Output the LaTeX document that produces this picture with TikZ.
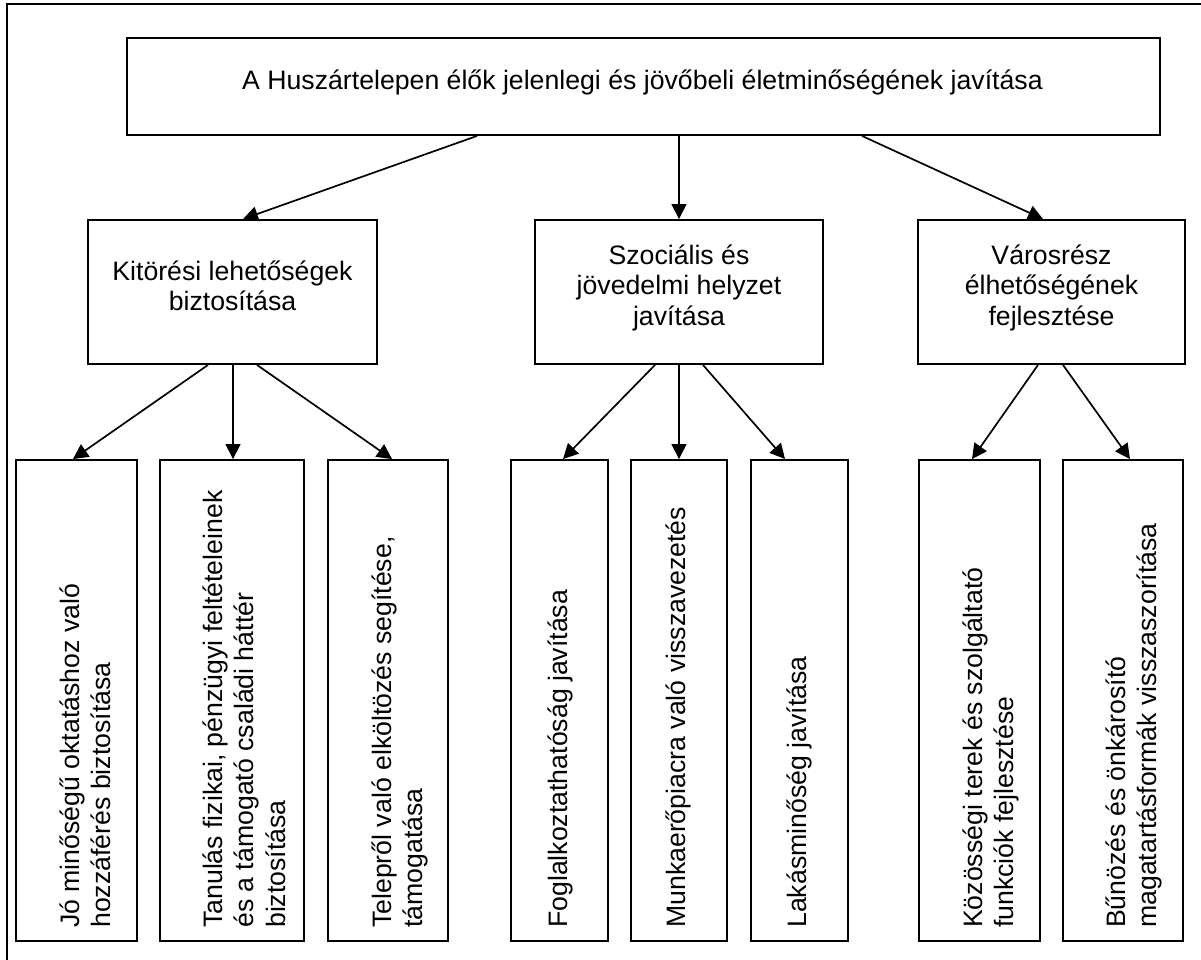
\documentclass[tikz,border=0pt]{standalone}
\usepackage{fontspec}
\setmainfont{Liberation Sans}
\usetikzlibrary{arrows.meta}
\begin{document}
\begin{tikzpicture}[x=1pt,y=-1pt,
  box/.style={draw, line width=1.9pt, inner sep=0pt},
  htext/.style={anchor=base, inner sep=0pt, font=\fontsize{26.67}{30.5}\selectfont},
  vtext/.style={rotate=90, anchor=base west, inner sep=0pt, font=\fontsize{26.67}{31.5}\selectfont},
  conn/.style={line width=1.7pt, -{Triangle[length=15pt,width=15pt]}}]
\useasboundingbox (0,0) rectangle (1201,960);
% outer frame (right and bottom sides lie outside the picture)
\draw[line width=1.9pt] (7,960) -- (7,4) -- (1201,4);
% top
\node[box, minimum width=1033pt, minimum height=97pt] (top) at (643.5,86.5) {};
\node[htext] (toptext) at (642.5,90) {A Huszártelepen élők jelenlegi és jövőbeli életminőségének javítása};
% middle level
\node[box, minimum width=289pt, minimum height=144pt] (m1) at (232.5,292) {};
\node[box, minimum width=288pt, minimum height=144pt] (m2) at (679,292) {};
\node[box, minimum width=267pt, minimum height=144pt] (m3) at (1051.5,292) {};
\node[htext] (m1text) at (232.5,280) {\begin{tabular}[t]{@{}c@{}}Kitörési lehetőségek\\biztosítása\end{tabular}};
\node[htext] (m2text) at (679,264) {\begin{tabular}[t]{@{}c@{}}Szociális és\\jövedelmi helyzet\\javítása\end{tabular}};
\node[htext] (m3text) at (1051.5,264) {\begin{tabular}[t]{@{}c@{}}Városrész\\élhetőségének\\fejlesztése\end{tabular}};
% bottom level
\node[box, minimum width=121pt, minimum height=481pt] (b1) at (76.5,700.5) {};
\node[box, minimum width=144pt, minimum height=481pt] (b2) at (232,700.5) {};
\node[box, minimum width=120pt, minimum height=481pt] (b3) at (388,700.5) {};
\node[box, minimum width=97pt, minimum height=481pt] (b4) at (559.5,700.5) {};
\node[box, minimum width=96pt, minimum height=481pt] (b5) at (679,700.5) {};
\node[box, minimum width=97pt, minimum height=481pt] (b6) at (799.5,700.5) {};
\node[box, minimum width=121pt, minimum height=481pt] (b7) at (979.5,700.5) {};
\node[box, minimum width=120pt, minimum height=481pt] (b8) at (1123,700.5) {};
\node[vtext] (b1text) at (79,928) {\begin{tabular}[t]{@{}l@{}}Jó minőségű oktatáshoz való\\hozzáférés biztosítása\end{tabular}};
\node[vtext] (b2text) at (222,928) {\begin{tabular}[t]{@{}l@{}}Tanulás fizikai, pénzügyi feltételeinek\\és a támogató családi háttér\\biztosítása\end{tabular}};
\node[vtext] (b3text) at (391,928) {\begin{tabular}[t]{@{}l@{}}Telepről való elköltözés segítése,\\támogatása\end{tabular}};
\node[vtext] (b4text) at (567,928) {Foglalkoztathatóság javítása};
\node[vtext] (b5text) at (685,928) {Munkaerőpiacra való visszavezetés};
\node[vtext] (b6text) at (806,928) {Lakásminőség javítása};
\node[vtext] (b7text) at (982,928) {\begin{tabular}[t]{@{}l@{}}Közösségi terek és szolgáltató\\funkciók fejlesztése\end{tabular}};
\node[vtext] (b8text) at (1125,928) {\begin{tabular}[t]{@{}l@{}}Bűnözés és önkárosító\\magatartásformák visszaszorítása\end{tabular}};
% connectors
\draw[conn] ([xshift=-166.5pt]top.south) -- ([xshift=10.5pt]m1.north);
\draw[conn] ([xshift=35.5pt]top.south) -- (m2.north);
\draw[conn] ([xshift=218.5pt]top.south) -- ([xshift=-8.5pt]m3.north);
\draw[conn] ([xshift=-24.5pt]m1.south) -- ([xshift=-3.5pt]b1.north);
\draw[conn] ([xshift=0.5pt]m1.south) -- ([xshift=1pt]b2.north);
\draw[conn] ([xshift=24.5pt]m1.south) -- ([xshift=4pt]b3.north);
\draw[conn] ([xshift=-24pt]m2.south) -- ([xshift=3.5pt]b4.north);
\draw[conn] (m2.south) -- (b5.north);
\draw[conn] ([xshift=24pt]m2.south) -- ([xshift=-14.5pt]b6.north);
\draw[conn] ([xshift=-13.5pt]m3.south) -- ([xshift=-7.5pt]b7.north);
\draw[conn] ([xshift=11.5pt]m3.south) -- ([xshift=7pt]b8.north);
\end{tikzpicture}
\end{document}
